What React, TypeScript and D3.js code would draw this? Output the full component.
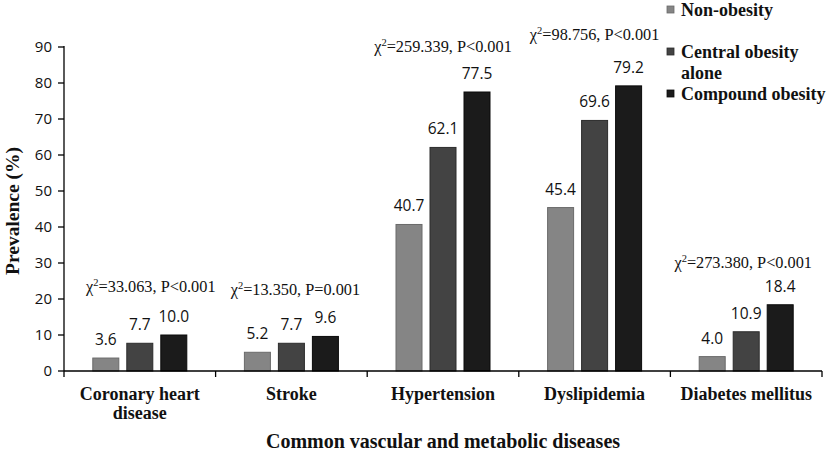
import * as d3 from "d3";

const categories = [
  ["Coronary heart", "disease"],
  ["Stroke"],
  ["Hypertension"],
  ["Dyslipidemia"],
  ["Diabetes mellitus"],
];
const seriesNames = ["Non-obesity", "Central obesity alone", "Compound obesity"];
const nonObesity = [3.6, 5.2, 40.7, 45.4, 4.0];
const centralObesity = [7.7, 7.7, 62.1, 69.6, 10.9];
const compoundObesity = [10.0, 9.6, 77.5, 79.2, 18.4];
const chiStats = ["33.063, P<0.001", "13.350, P=0.001", "259.339, P<0.001", "98.756, P<0.001", "273.380, P<0.001"];
// height (in % units) where each chi-square note sits
const chiLevel = [21.9, 21.1, 88.6, 91.9, 28.6];
const chiShift = [11, 4, 0, 0, -3];
const yTicks = [0, 10, 20, 30, 40, 50, 60, 70, 80, 90];

const fills = ["#858585", "#434343", "#1b1b1b"];
const strokes = ["#6a6a6a", "#2c2c2c", "#0a0a0a"];

export default function App() {
  const W = 829;
  const H = 452;
  const left = 64;
  const right = 822;
  const top = 47;
  const bottom = 371;

  const series = [nonObesity, centralObesity, compoundObesity];
  const idx = categories.map((_, i) => String(i));

  const x = d3.scaleBand<string>().domain(idx).range([left, right]);
  const y = d3.scaleLinear().domain([0, 90]).range([bottom, top]);
  const inner = d3
    .scaleBand<number>()
    .domain([0, 1, 2])
    .range([0, 94])
    .paddingInner(8 / 34);

  const sans = "'Open Sans', 'Noto Sans', sans-serif";
  const serif = "'Liberation Serif', 'Times New Roman', serif";

  return (
    <svg width={W} height={H} style={{ position: "absolute", left: 0, top: 0, background: "#fff" }}>
      {/* bars */}
      {categories.map((_, ci) => {
        const cx = (x(String(ci)) || 0) + x.bandwidth() / 2;
        const x0 = cx - 47;
        return (
          <g key={ci}>
            {series.map((vals, si) => {
              const bx = x0 + (inner(si) || 0);
              const v = vals[ci];
              return (
                <g key={si}>
                  <rect
                    x={bx}
                    y={y(v)}
                    width={inner.bandwidth()}
                    height={y(0) - y(v)}
                    fill={fills[si]}
                    stroke={strokes[si]}
                    strokeWidth={1}
                  />
                  <text
                    x={bx + inner.bandwidth() / 2}
                    y={y(v) - 13}
                    textAnchor="middle"
                    fontFamily={sans}
                    fontSize={15.5}
                    fill="#111"
                  >
                    {v.toFixed(1)}
                  </text>
                </g>
              );
            })}
            <text
              x={cx + chiShift[ci]}
              y={y(chiLevel[ci])}
              textAnchor="middle"
              fontFamily={serif}
              fontSize={16.3}
              fill="#111"
            >
              χ<tspan dy={-6} fontSize={10.5}>2</tspan>
              <tspan dy={6}>={chiStats[ci]}</tspan>
            </text>
          </g>
        );
      })}

      {/* y axis */}
      <line x1={left} x2={left} y1={top - 1} y2={bottom} stroke="#000" strokeWidth={1.3} />
      {yTicks.map((t) => (
        <g key={t}>
          <line x1={left - 6} x2={left} y1={y(t)} y2={y(t)} stroke="#000" strokeWidth={1.3} />
          <text
            x={left - 12}
            y={y(t) + 5}
            textAnchor="end"
            fontFamily={sans}
            fontSize={15}
            fill="#111"
          >
            {t}
          </text>
        </g>
      ))}

      {/* x axis */}
      <line x1={left} x2={right} y1={bottom} y2={bottom} stroke="#000" strokeWidth={1.3} />
      {[...idx.map((d) => x(d) || 0), right].map((tx, i) => (
        <line key={i} x1={tx} x2={tx} y1={bottom} y2={bottom + 6} stroke="#000" strokeWidth={1.3} />
      ))}
      {categories.map((lines, ci) => (
        <text
          key={ci}
          x={(x(String(ci)) || 0) + x.bandwidth() / 2}
          y={400}
          textAnchor="middle"
          fontFamily={serif}
          fontWeight="bold"
          fontSize={18}
          fill="#111"
        >
          {lines.map((l, li) => (
            <tspan key={li} x={(x(String(ci)) || 0) + x.bandwidth() / 2} dy={li === 0 ? 0 : 19}>
              {l}
            </tspan>
          ))}
        </text>
      ))}

      {/* axis titles */}
      <text
        x={(left + right) / 2}
        y={448}
        textAnchor="middle"
        fontFamily={serif}
        fontWeight="bold"
        fontSize={20}
        fill="#111"
      >
        Common vascular and metabolic diseases
      </text>
      <text
        transform={`translate(19,${(top + bottom) / 2 + 2}) rotate(-90)`}
        textAnchor="middle"
        fontFamily={serif}
        fontWeight="bold"
        fontSize={19.5}
        fill="#111"
      >
        Prevalence (%)
      </text>

      {/* legend */}
      {[
        { lines: ["Non-obesity"], yb: 16 },
        { lines: ["Central obesity", "alone"], yb: 58 },
        { lines: ["Compound obesity"], yb: 100 },
      ].map((item, i) => (
        <g key={seriesNames[i]}>
          <rect x={667} y={item.yb - 10} width={7} height={7} fill={fills[i]} stroke={strokes[i]} strokeWidth={0.8} />
          <text x={681} y={item.yb} fontFamily={serif} fontWeight="bold" fontSize={18} fill="#111">
            {item.lines.map((l, li) => (
              <tspan key={li} x={681} dy={li === 0 ? 0 : 21}>
                {l}
              </tspan>
            ))}
          </text>
        </g>
      ))}
    </svg>
  );
}
